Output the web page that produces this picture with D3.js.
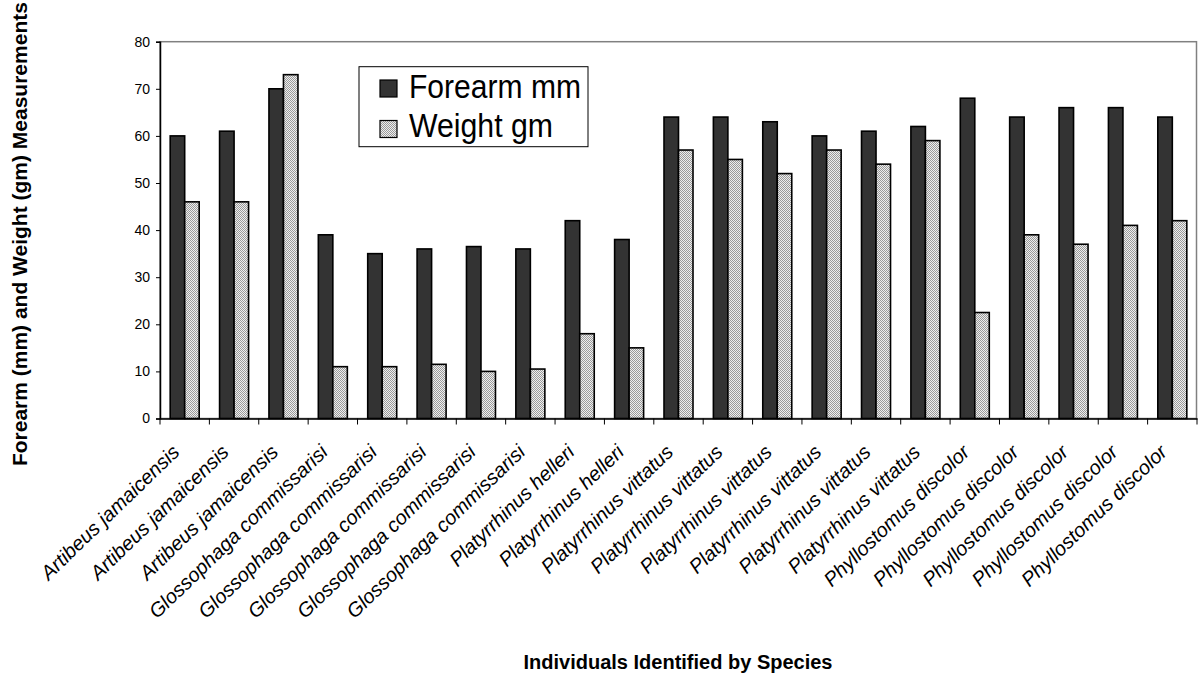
<!DOCTYPE html>
<html>
<head>
<meta charset="utf-8">
<script src="https://cdn.jsdelivr.net/npm/d3@7"></script>
<style>
  body { margin: 0; background: #fff; }
  text { font-family: "Liberation Sans", Arial, sans-serif; }
</style>
</head>
<body>
<div class="chart"></div>
<script>
const species = [
  'Artibeus jamaicensis', 'Artibeus jamaicensis', 'Artibeus jamaicensis',
  'Glossophaga commissarisi', 'Glossophaga commissarisi', 'Glossophaga commissarisi',
  'Glossophaga commissarisi', 'Glossophaga commissarisi',
  'Platyrrhinus helleri', 'Platyrrhinus helleri',
  'Platyrrhinus vittatus', 'Platyrrhinus vittatus', 'Platyrrhinus vittatus',
  'Platyrrhinus vittatus', 'Platyrrhinus vittatus', 'Platyrrhinus vittatus',
  'Phyllostomus discolor', 'Phyllostomus discolor', 'Phyllostomus discolor',
  'Phyllostomus discolor', 'Phyllostomus discolor'
];
const forearm = [60, 61, 70, 39, 35, 36, 36.5, 36, 42, 38, 64, 64, 63, 60, 61, 62, 68, 64, 66, 66, 64];
const weight = [46, 46, 73, 11, 11, 11.5, 10, 10.5, 18, 15, 57, 55, 52, 57, 54, 59, 22.5, 39, 37, 41, 42];
const seriesNames = ['Forearm mm', 'Weight gm'];
const yTicks = [0, 10, 20, 30, 40, 50, 60, 70, 80];

const width = 1198;
const height = 676;
const plotLeft = 160, plotRight = 1197, plotTop = 41.7, plotBottom = 418.5;

const svg = d3.select('.chart').append('svg')
  .attr('width', width)
  .attr('height', height)

// dotted fill used by the weight bars
const pat = svg.append('defs').append('pattern')
  .attr('id', 'dots')
  .attr('width', 2).attr('height', 2)
  .attr('patternUnits', 'userSpaceOnUse')
pat.append('rect').attr('width', 2).attr('height', 2).attr('fill', '#eeeeee')
pat.append('rect').attr('width', 1).attr('height', 1).attr('fill', '#9a9a9a')
pat.append('rect').attr('x', 1).attr('y', 1).attr('width', 1).attr('height', 1).attr('fill', '#9a9a9a')

const idx = d3.range(species.length);
const x = d3.scaleBand().domain(idx).range([plotLeft, plotRight]);
const y = d3.scaleLinear().domain([0, 80]).range([plotBottom, plotTop]);
const groupW = 29;
const xs = d3.scaleBand().domain([0, 1]).range([0, groupW]);

// plot area border (grey)
svg.append('rect')
  .attr('x', plotLeft).attr('y', plotTop)
  .attr('width', plotRight - plotLeft - 0.5).attr('height', plotBottom - plotTop)
  .attr('fill', 'none')
  .attr('stroke', '#808080')
  .attr('stroke-width', 1.5)

const series = [forearm, weight];
const fills = ['#333333', 'url(#dots)'];

series.forEach((vals, s) => {
  svg.append('g').selectAll('rect')
    .data(idx)
    .enter()
    .append('rect')
    .attr('x', i => x(i) + (x.bandwidth() - groupW) / 2 + xs(s))
    .attr('y', i => y(vals[i]))
    .attr('width', xs.bandwidth())
    .attr('height', i => y(0) - y(vals[i]))
    .attr('fill', fills[s])
    .attr('stroke', '#000')
    .attr('stroke-width', 1.6)
})

// y axis
const yAxis = svg.append('g')
  .attr('transform', `translate(${plotLeft},0)`)
  .call(d3.axisLeft(y).tickValues(yTicks).tickSize(4).tickPadding(6))
yAxis.select('.domain').attr('stroke', '#000').attr('stroke-width', 1.5)
yAxis.selectAll('.tick line').attr('stroke', '#000')
yAxis.selectAll('text')
  .style('font-size', '14px')
  .style('font-family', '"Liberation Sans", Arial, sans-serif')
  .attr('fill', '#000')

// x axis, ticks between categories
const xAxis = svg.append('g')
  .attr('transform', `translate(0,${plotBottom})`)
  .call(d3.axisBottom(x).tickSize(0).tickFormat(''))
xAxis.select('.domain').attr('stroke', '#000').attr('stroke-width', 1.5)
svg.append('g').selectAll('line')
  .data(d3.range(species.length + 1))
  .enter()
  .append('line')
  .attr('x1', i => plotLeft + i * x.step())
  .attr('x2', i => plotLeft + i * x.step())
  .attr('y1', plotBottom)
  .attr('y2', plotBottom + 6)
  .attr('stroke', '#000')

svg.append('g').selectAll('text')
  .data(idx)
  .enter()
  .append('text')
  .attr('transform', i => `translate(${x(i) + x.bandwidth() / 2 - 4},${plotBottom + 35}) rotate(-44)`)
  .attr('text-anchor', 'end')
  .style('font-size', '20px')
  .style('font-style', 'italic')
  .text(i => species[i])

// axis titles
svg.append('text')
  .attr('transform', `translate(27,${(plotTop + plotBottom) / 2 + 4}) rotate(-90)`)
  .attr('text-anchor', 'middle')
  .style('font-size', '21px')
  .style('font-weight', 'bold')
  .text('Forearm (mm) and Weight (gm) Measurements')

svg.append('text')
  .attr('x', 678)
  .attr('y', 669)
  .attr('text-anchor', 'middle')
  .style('font-size', '20px')
  .style('font-weight', 'bold')
  .text('Individuals Identified by Species')

// legend
const legend = svg.append('g')
legend.append('rect')
  .attr('x', 359).attr('y', 66.7)
  .attr('width', 229).attr('height', 80)
  .attr('fill', '#fff')
  .attr('stroke', '#000')
  .attr('stroke-width', 1)

seriesNames.forEach((name, s) => {
  legend.append('rect')
    .attr('x', 380).attr('y', 80 + s * 40.5)
    .attr('width', 17).attr('height', 17)
    .attr('fill', fills[s])
    .attr('stroke', '#000')
    .attr('stroke-width', 1.2)
  legend.append('text')
    .attr('x', 409).attr('y', 98.3 + s * 38.5)
    .attr('textLength', s === 0 ? 172 : 144)
    .attr('lengthAdjust', 'spacingAndGlyphs')
    .style('font-size', '34px')
    .text(name)
})
</script>
</body>
</html>
